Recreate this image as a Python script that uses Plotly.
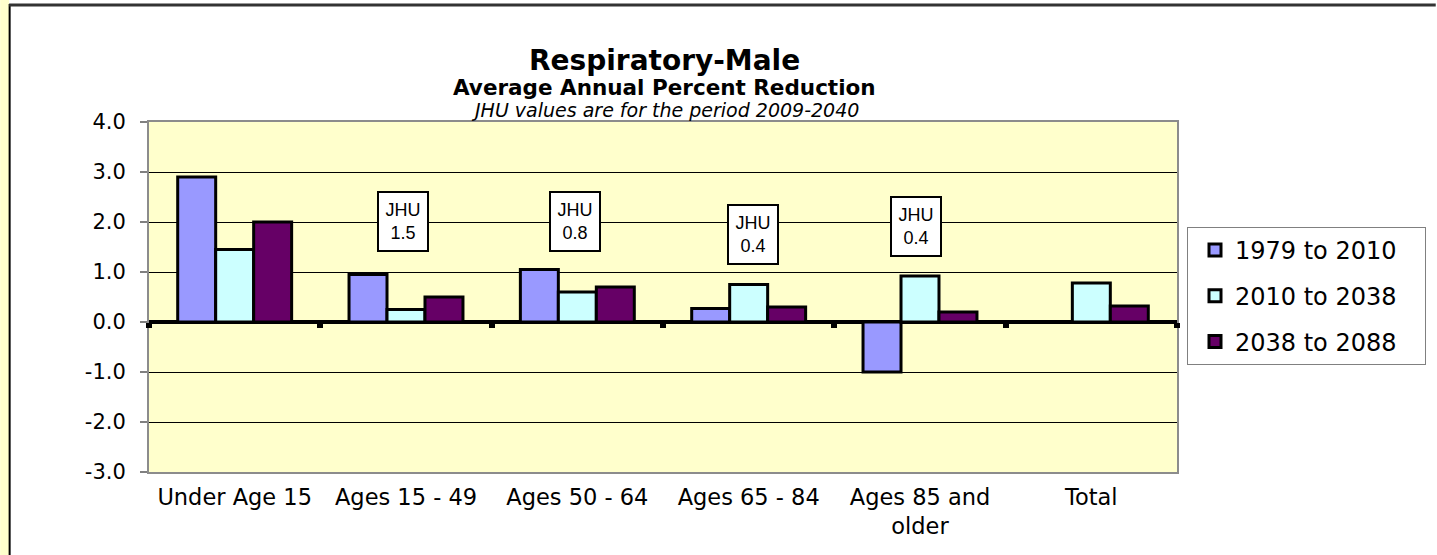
import plotly.graph_objects as go

categories = ["Under Age 15", "Ages 15 - 49", "Ages 50 - 64", "Ages 65 - 84", "Ages 85 and<br>older", "Total"]
series_names = ["1979 to 2010", "2010 to 2038", "2038 to 2088"]
s1979_2010 = [2.9, 0.95, 1.05, 0.27, -1.0, None]
s2010_2038 = [1.45, 0.25, 0.6, 0.75, 0.92, 0.78]
s2038_2088 = [2.0, 0.5, 0.7, 0.3, 0.2, 0.32]
series_colors = ["#9999FF", "#CCFFFF", "#660066"]

jhu_categories = ["Ages 15 - 49", "Ages 50 - 64", "Ages 65 - 84", "Ages 85 and<br>older"]
jhu_values = ["1.5", "0.8", "0.4", "0.4"]
jhu_label_y = [2.02, 2.02, 1.76, 1.92]
jhu_xshift = [-3, -2, 4, -4]

y_ticks = [-3, -2, -1, 0, 1, 2, 3, 4]
y_ticktext = ["%.1f" % v for v in y_ticks]

W, H = 1437, 555
PL, PR, PT, PB = 149, 1178, 122, 472


def px_x(px):
    return (px - PL) / (PR - PL)


def px_y(py):
    return (PB - py) / (PB - PT)


FONT = "DejaVu Sans"
PAD = "\u00a0\u00a0\u00a0"

fig = go.Figure()
for name, vals, col in zip(series_names, [s1979_2010, s2010_2038, s2038_2088], series_colors):
    fig.add_trace(go.Bar(
        x=categories, y=vals, name=name + PAD, legendgroup=name,
        marker=dict(color=col, line=dict(color="black", width=3)),
    ))

# helper trace for the category tick marks on the zero line
fig.add_trace(go.Bar(x=categories, y=[None] * len(categories), xaxis="x2",
                     showlegend=False, hoverinfo="skip"))

annotations = [
    dict(text="<b>Respiratory-Male</b>", x=0.5015, y=px_y(60), xref="paper", yref="paper",
         showarrow=False, font=dict(family=FONT, size=28, color="black"), yanchor="middle"),
    dict(text="<b>Average Annual Percent Reduction</b>", x=0.5015, y=px_y(88), xref="paper", yref="paper",
         showarrow=False, font=dict(family=FONT, size=21.5, color="black"), yanchor="middle"),
    dict(text="<i>JHU values are for the period 2009-2040</i>", x=0.5015, y=px_y(110), xref="paper", yref="paper",
         showarrow=False, font=dict(family=FONT, size=19, color="black"), yanchor="middle"),
]
for c, v, yy, xs in zip(jhu_categories, jhu_values, jhu_label_y, jhu_xshift):
    annotations.append(dict(
        text="JHU<br>" + v, x=c, y=yy, xref="x", yref="y", xshift=xs, showarrow=False,
        font=dict(family="Liberation Sans, Arial", size=18, color="black"),
        bgcolor="white", bordercolor="black", borderwidth=2, borderpad=1,
        width=46, height=55, align="center", valign="middle",
    ))

shapes = [
    dict(type="rect", xref="paper", yref="paper", x0=px_x(0), x1=px_x(9), y0=px_y(555), y1=px_y(0),
         fillcolor="#FFFFCC", line=dict(width=0), layer="above"),
    dict(type="line", xref="paper", yref="paper", x0=px_x(9.5), x1=px_x(9.5), y0=px_y(555), y1=px_y(4),
         line=dict(color="black", width=2), layer="above"),
    dict(type="line", xref="paper", yref="paper", x0=px_x(9), x1=px_x(1437), y0=px_y(5), y1=px_y(5),
         line=dict(color="#333333", width=3), layer="above"),
]

fig.update_layout(
    width=W, height=H,
    margin=dict(l=PL, r=W - PR, t=PT, b=H - PB, pad=0),
    paper_bgcolor="white", plot_bgcolor="#FFFFCC",
    barmode="group", bargap=0.335, bargroupgap=0,
    font=dict(family=FONT, color="black"),
    showlegend=True,
    legend=dict(x=px_x(1187), y=px_y(227), xanchor="left", yanchor="top",
                bordercolor="#808080", borderwidth=1, bgcolor="white",
                font=dict(family=FONT, size=24, color="black"),
                tracegroupgap=11.5, indentation=7),
    xaxis=dict(type="category", categoryarray=categories, range=[-0.5, 5.5],
               showline=True, linecolor="#8c8c8c", linewidth=2, mirror=True,
               ticks="", showgrid=False, zeroline=False,
               tickfont=dict(family=FONT, size=22.5, color="black"), ticklabelstandoff=4),
    xaxis2=dict(type="category", categoryarray=categories, range=[-0.5, 5.5],
                overlaying="x", anchor="free", position=px_y(322),
                ticks="outside", tickson="boundaries", ticklen=5, tickwidth=6, tickcolor="black",
                showticklabels=False, showgrid=False, zeroline=False, showline=False),
    yaxis=dict(range=[-3, 4], tickvals=y_ticks, ticktext=y_ticktext,
               showline=True, linecolor="#8c8c8c", linewidth=2, mirror=True,
               ticks="outside", ticklen=7, tickwidth=1.5, tickcolor="#808080",
               showgrid=True, gridcolor="black", gridwidth=1,
               zeroline=True, zerolinecolor="black", zerolinewidth=4,
               tickfont=dict(family=FONT, size=21, color="black"), ticklabelstandoff=10),
    annotations=annotations,
    shapes=shapes,
)

fig.write_html("out.html", config={"displayModeBar": False},
               post_script="document.body.style.margin='0';")
